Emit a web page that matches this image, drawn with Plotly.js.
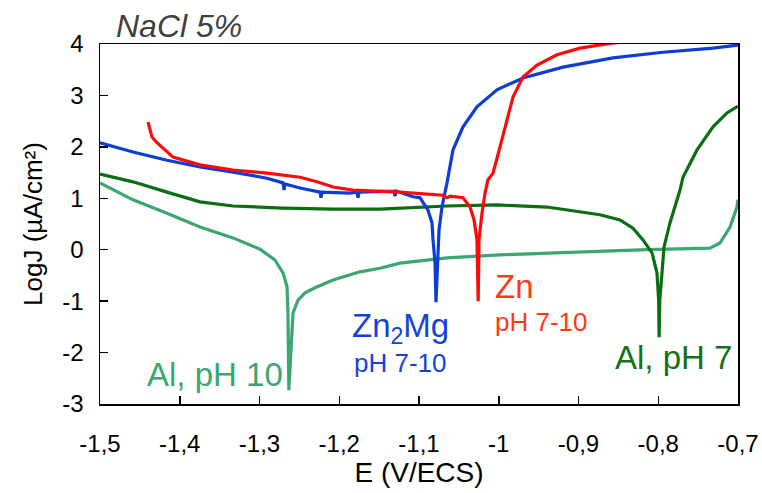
<!DOCTYPE html>
<html>
<head>
<meta charset="utf-8">
<script src="https://cdn.plot.ly/plotly-3.0.1.min.js"></script>
<style>html,body{margin:0;padding:0;background:#fff;}#chart{width:762px;height:493px;}</style>
</head>
<body>
<div id="chart"></div>
<script>
// Zn, pH 7-10
const znE = [-1.4398,-1.4348,-1.4285,-1.416,-1.4085,-1.3746,-1.3332,-1.2906,-1.2492,-1.2279,-1.2078,-1.1828,-1.1489,-1.1238,-1.0699,-1.0649,-1.0611,-1.0448,-1.0361,-1.0310,-1.0273,-1.0262,-1.0258,-1.0252,-1.0248,-1.0210,-1.0172,-1.0135,-1.0072,-0.9984,-0.9897,-0.9821,-0.9696,-0.9520,-0.9270,-0.8981,-0.8567,-0.80];
const znJ = [2.48,2.19,2.08,1.90,1.80,1.65,1.55,1.49,1.41,1.32,1.22,1.16,1.14,1.12,1.06,1.01,1.04,1.01,0.83,0.58,0.19,-0.40,-1.00,-0.40,0.19,0.71,1.10,1.36,1.49,2.00,2.52,2.97,3.36,3.59,3.79,3.92,4.02,4.10];

// Zn2Mg, pH 7-10
const zmE = [-1.5,-1.4586,-1.416,-1.3746,-1.3332,-1.2906,-1.2705,-1.2693,-1.2680,-1.2492,-1.2241,-1.2229,-1.2216,-1.1865,-1.1777,-1.1765,-1.1752,-1.1489,-1.1313,-1.1301,-1.1288,-1.1075,-1.0987,-1.0887,-1.0837,-1.0824,-1.0799,-1.0787,-1.0762,-1.0749,-1.0712,-1.0649,-1.0574,-1.0448,-1.0273,-1.0022,-0.9696,-0.9194,-0.8567,-0.794,-0.7313,-0.70];
const zmJ = [2.08,1.90,1.74,1.61,1.51,1.39,1.30,1.16,1.28,1.20,1.12,1.01,1.12,1.10,1.12,1.01,1.12,1.14,1.14,1.04,1.14,1.03,1.01,0.77,0.52,0.19,-0.26,-1.02,-0.26,0.38,0.83,1.30,1.94,2.39,2.78,3.11,3.34,3.55,3.73,3.84,3.92,3.98];

// Al, pH 7
const a7E = [-1.5,-1.4586,-1.416,-1.3746,-1.3332,-1.2705,-1.2078,-1.1489,-1.0649,-1.0022,-0.9395,-0.8981,-0.8730,-0.8480,-0.8317,-0.8191,-0.8078,-0.8016,-0.7995,-0.7989,-0.7981,-0.7953,-0.7928,-0.7853,-0.7815,-0.7727,-0.7690,-0.7514,-0.7313,-0.7138,-0.70];
const a7J = [1.47,1.32,1.12,0.93,0.85,0.81,0.79,0.79,0.85,0.87,0.83,0.73,0.68,0.58,0.42,0.19,-0.06,-0.45,-0.98,-1.70,-0.98,-0.45,0.05,0.52,0.71,1.16,1.41,1.94,2.39,2.66,2.79];

// Al, pH 10
const a10E = [-1.5,-1.4586,-1.416,-1.3746,-1.3332,-1.3056,-1.2994,-1.2806,-1.2705,-1.2655,-1.2643,-1.2632,-1.2605,-1.2580,-1.2517,-1.2429,-1.2304,-1.2078,-1.1740,-1.1489,-1.1238,-1.0649,-0.9984,-0.8981,-0.8141,-0.7351,-0.7226,-0.7100,-0.7013,-0.70];
const a10J = [1.30,0.97,0.71,0.44,0.23,0.05,0.01,-0.20,-0.45,-0.72,-1.23,-2.73,-1.89,-1.23,-0.98,-0.84,-0.74,-0.59,-0.43,-0.36,-0.26,-0.16,-0.10,-0.04,0.00,0.03,0.13,0.44,0.83,0.97];

const xTickVals = [-1.5,-1.4,-1.3,-1.2,-1.1,-1.0,-0.9,-0.8,-0.7];
const xTickText = ['-1,5','-1,4','-1,3','-1,2','-1,1','-1','-0,9','-0,8','-0,7'];
const yTickVals = [-3,-2,-1,0,1,2,3,4];
const yTickText = ['-3','-2','-1','0','1','2','3','4'];

const FONT = 'Liberation Sans, Arial, sans-serif';
const cRed = '#ff0a0a', cBlue = '#0c3ed6', cDark = '#0b6e12', cLight = '#3aa670';

const line = (x, y, c) => ({x, y, type: 'scatter', mode: 'lines', line: {color: c, width: 3.2}, hoverinfo: 'skip', showlegend: false});

const data = [line(a10E, a10J, cLight), line(a7E, a7J, cDark), line(zmE, zmJ, cBlue), line(znE, znJ, cRed)];

const axisCommon = {
  showgrid: false, zeroline: false, showline: true, linecolor: '#000', linewidth: 1.5,
  mirror: true, ticks: 'inside', ticklen: 8, tickwidth: 1.5, tickcolor: '#000',
  tickfont: {family: FONT, size: 24, color: '#000'}, tickmode: 'array'
};

const layout = {
  width: 762, height: 493,
  margin: {l: 100, r: 24, t: 44, b: 89},
  paper_bgcolor: '#fff', plot_bgcolor: '#fff',
  xaxis: Object.assign({}, axisCommon, {
    range: [-1.5, -0.7], tickvals: xTickVals, ticktext: xTickText, ticklabelstandoff: 18,
    title: {text: 'E (V/ECS)', font: {family: FONT, size: 28, color: '#000'}, standoff: 0}
  }),
  yaxis: Object.assign({}, axisCommon, {
    range: [-3, 4], tickvals: yTickVals, ticktext: yTickText, ticklabelstandoff: 10,
    title: {text: 'LogJ (µA/cm²)', font: {family: FONT, size: 26, color: '#000'}, standoff: 12}
  }),
  annotations: [
    {xref: 'paper', yref: 'paper', x: 0.022, y: 1.05, xanchor: 'left', yanchor: 'middle', showarrow: false,
     text: '<i>NaCl 5%</i>', font: {family: FONT, size: 32, color: '#404040'}},
    {x: -1.4436, y: -2.42, xanchor: 'left', yanchor: 'middle', showarrow: false,
     text: 'Al, pH 10', font: {family: FONT, size: 33, color: cLight}},
    {x: -1.1865, y: -1.53, xanchor: 'left', yanchor: 'middle', showarrow: false,
     text: 'Zn<sub>2</sub>Mg', font: {family: FONT, size: 33, color: '#1444d6'}},
    {x: -1.184, y: -2.2, xanchor: 'left', yanchor: 'middle', showarrow: false,
     text: 'pH 7-10', font: {family: FONT, size: 26, color: '#1444d6'}},
    {x: -1.0072, y: -0.72, xanchor: 'left', yanchor: 'middle', showarrow: false,
     text: 'Zn', font: {family: FONT, size: 33, color: '#ff3a12'}},
    {x: -1.0072, y: -1.41, xanchor: 'left', yanchor: 'middle', showarrow: false,
     text: 'pH 7-10', font: {family: FONT, size: 26, color: '#ff3a12'}},
    {x: -0.8567, y: -2.1, xanchor: 'left', yanchor: 'middle', showarrow: false,
     text: 'Al, pH 7', font: {family: FONT, size: 33, color: '#17701a'}}
  ]
};

Plotly.newPlot('chart', data, layout, {displayModeBar: false, staticPlot: true});
</script>
</body>
</html>
